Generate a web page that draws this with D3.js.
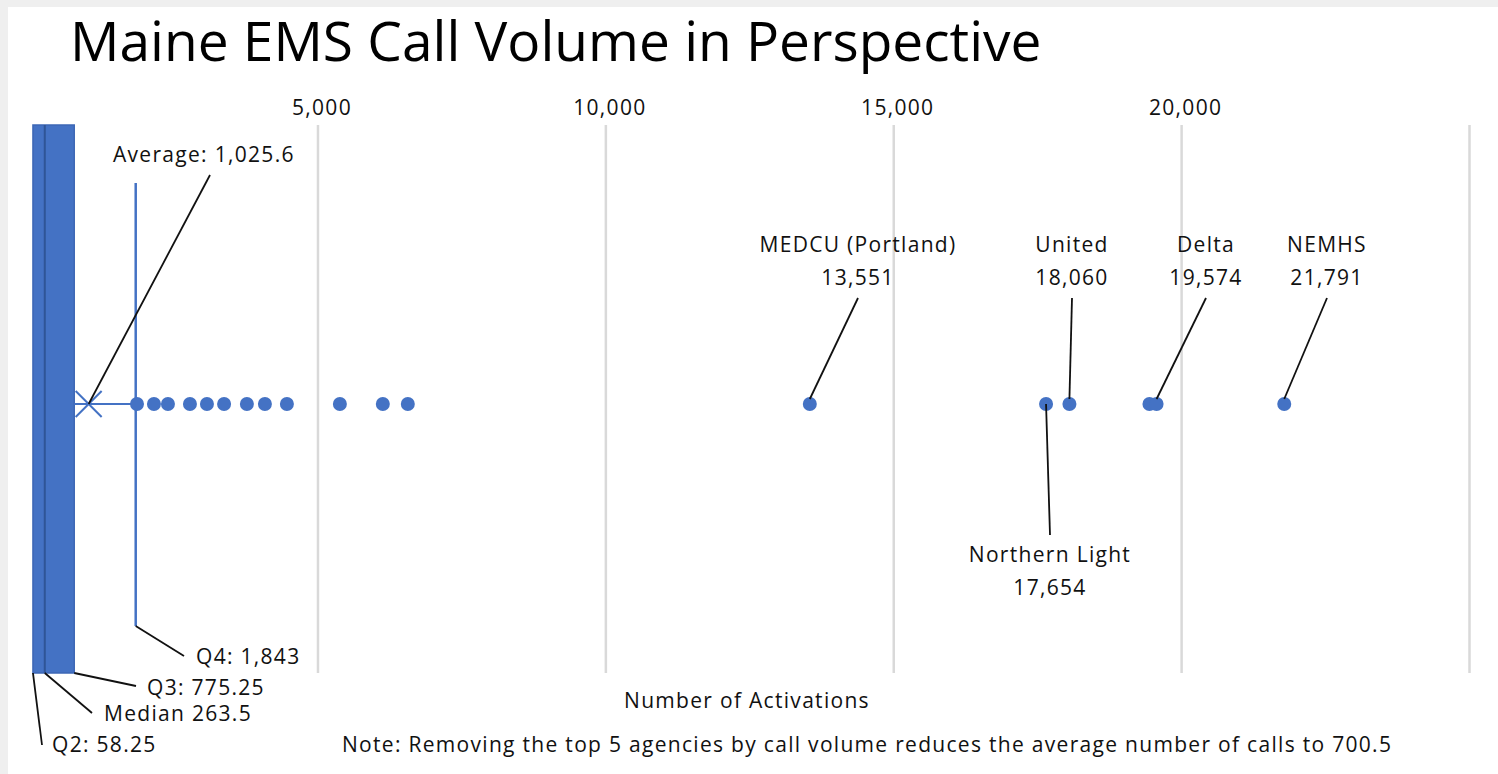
<!DOCTYPE html>
<html>
<head>
<meta charset="utf-8">
<script src="https://cdn.jsdelivr.net/npm/d3@7"></script>
<style>
  body { margin: 0; background: #efefef; }
  svg { display: block; }
  text { font-family: "Open Sans", sans-serif; fill: #111; letter-spacing: 1.3px; }
</style>
</head>
<body>
<div id="chart"></div>
<script>
// box plot summary
const quartileNames = ["Q2", "Median", "Q3", "Q4"];
const quartileValues = [58.25, 263.5, 775.25, 1843];
const averageValue = 1025.6;

// unlabeled agencies beyond the whisker
const outlierValues = [1865, 2160, 2403, 2785, 3080, 3378, 3774, 4087, 4469, 5389, 6135, 6569, 19450];

// labeled agencies
const agencyNames = ["MEDCU (Portland)", "Northern Light", "United", "Delta", "NEMHS"];
const agencyValues = [13551, 17654, 18060, 19574, 21791];

const gridTicks = [5000, 10000, 15000, 20000, 25000];
const tickLabels = ["5,000", "10,000", "15,000", "20,000", ""];

const W = 1498, H = 774;
const blue = "#4472C4";
const plotTop = 125, plotBottom = 673, midY = 404;
const fs = "21px";

const svg = d3.select("#chart").append("svg").attr("width", W).attr("height", H);

svg.append("rect").attr("x", 8).attr("y", 7).attr("width", W - 8).attr("height", H - 7).attr("fill", "#fff");

svg.append("text").attr("x", 70).attr("y", 61)
  .style("font-size", "55px").style("fill", "#000").style("letter-spacing", "0px")
  .text("Maine EMS Call Volume in Perspective");

const x = d3.scaleLinear().domain([0, 25000]).range([29.6, 1469]);

// gridlines + tick labels
const axis = d3.axisTop(x).tickValues(gridTicks)
  .tickSize(-(plotBottom - plotTop)).tickPadding(10)
  .tickFormat((d, i) => tickLabels[i]);
const gAxis = svg.append("g").attr("transform", `translate(0,${plotTop})`).call(axis);
gAxis.select(".domain").remove();
gAxis.selectAll(".tick line").attr("stroke", "#d9d9d9").attr("stroke-width", 2.5);
gAxis.selectAll(".tick text").style("font-size", fs).attr("fill", "#111")
  .attr("dx", 4).attr("font-family", "Open Sans, sans-serif");

// box
const [q1, med, q3, q4] = quartileValues;
svg.append("rect").attr("x", x(q1)).attr("y", plotTop)
  .attr("width", x(q3) - x(q1)).attr("height", plotBottom - plotTop)
  .attr("fill", blue).attr("stroke", "#3d67b5").attr("stroke-width", 1.5);
svg.append("line").attr("x1", x(med)).attr("x2", x(med)).attr("y1", plotTop).attr("y2", plotBottom)
  .attr("stroke", "#2f5597").attr("stroke-width", 2);

// whisker
svg.append("line").attr("x1", x(q3)).attr("x2", x(q4)).attr("y1", midY).attr("y2", midY)
  .attr("stroke", blue).attr("stroke-width", 2);
svg.append("line").attr("x1", x(q4)).attr("x2", x(q4)).attr("y1", 183).attr("y2", 626)
  .attr("stroke", blue).attr("stroke-width", 2.5);

// mean marker
const mx = x(averageValue), ms = 13;
svg.append("path")
  .attr("d", `M${mx - ms},${midY - ms}L${mx + ms},${midY + ms}M${mx - ms},${midY + ms}L${mx + ms},${midY - ms}`)
  .attr("stroke", blue).attr("stroke-width", 2);

// dots
svg.selectAll("circle.out").data(outlierValues.concat(agencyValues)).enter().append("circle")
  .attr("class", "out").attr("cx", d => x(d)).attr("cy", midY).attr("r", 7).attr("fill", blue);

// annotations
function label(lines, cx, y) {
  const t = svg.append("text").attr("text-anchor", "middle").style("font-size", fs);
  lines.forEach((s, i) => t.append("tspan").attr("x", cx).attr("y", y + i * 33).text(s));
}
function leader(x1, y1, x2, y2) {
  svg.append("line").attr("x1", x1).attr("y1", y1).attr("x2", x2).attr("y2", y2)
    .attr("stroke", "#111").attr("stroke-width", 1.8);
}
const fmt = d3.format(",");

// average
svg.append("text").attr("x", 113).attr("y", 162).style("font-size", fs)
  .text("Average: " + d3.format(",.1f")(averageValue));
leader(210, 175, mx, midY);

// agencies above
const aboveX = { "MEDCU (Portland)": 858, "United": 1072, "Delta": 1206, "NEMHS": 1327 };
agencyNames.forEach((n, i) => {
  if (n === "Northern Light") {
    label([n, fmt(agencyValues[i])], 1050, 562);
    leader(x(agencyValues[i]), midY, 1050, 535);
  } else {
    label([n, fmt(agencyValues[i])], aboveX[n], 252);
    leader(aboveX[n], 298, x(agencyValues[i]), midY - 5);
  }
});

// quartile labels
const qLabels = [
  { text: "Q2: " + fmt(q1), tx: 52, ty: 752, lx1: x(q1), ly1: plotBottom, lx2: 42, ly2: 745 },
  { text: "Median " + med, tx: 104, ty: 721, lx1: x(med), ly1: plotBottom, lx2: 92, ly2: 713 },
  { text: "Q3: " + q3, tx: 147, ty: 695, lx1: x(q3), ly1: plotBottom, lx2: 136, ly2: 686 },
  { text: "Q4: " + fmt(q4), tx: 196, ty: 664, lx1: x(q4), ly1: 626, lx2: 184, ly2: 656 }
];
qLabels.forEach(q => {
  svg.append("text").attr("x", q.tx).attr("y", q.ty).style("font-size", fs).text(q.text);
  leader(q.lx1, q.ly1, q.lx2, q.ly2);
});

svg.append("text").attr("x", 747).attr("y", 708).attr("text-anchor", "middle")
  .style("font-size", fs).text("Number of Activations");
svg.append("text").attr("x", 342).attr("y", 752).style("font-size", fs)
  .text("Note: Removing the top 5 agencies by call volume reduces the average number of calls to 700.5");
</script>
</body>
</html>
